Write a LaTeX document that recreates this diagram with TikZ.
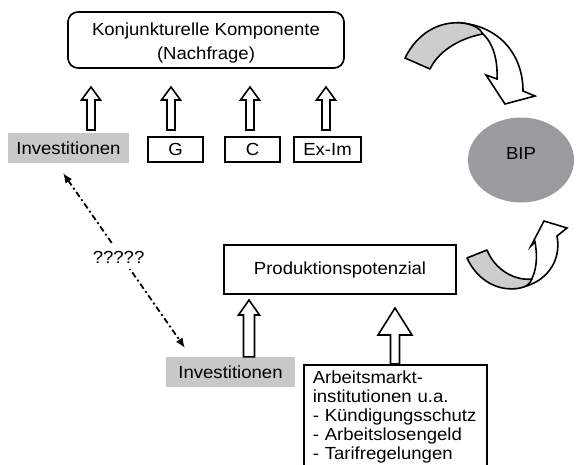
\documentclass[tikz,border=0pt]{standalone}
\usepackage{fontspec}
\setmainfont{Liberation Sans}[FakeStretch=1.06]
\usetikzlibrary{calc,arrows.meta,shapes.geometric}
\definecolor{lgray}{HTML}{C8C8C8}
\definecolor{bipgray}{HTML}{9B9B9F}
\definecolor{bandgray}{HTML}{CDCDCD}
\newcommand\harr[5]{\draw[harrow] ($(#1)+(-#3,0)$) -- ($(#2)+(-#3,#5)$) -- ($(#2)+(-#4,#5)$) -- (#2) -- ($(#2)+(#4,#5)$) -- ($(#2)+(#3,#5)$) -- ($(#1)+(#3,0)$) -- cycle;}
\begin{document}
\begin{tikzpicture}[x=1pt,y=-1pt, font=\fontsize{17.5}{21}\selectfont,
  box/.style={draw, line width=1.6pt, inner sep=0pt, minimum height=25pt},
  grayb/.style={fill=lgray, inner sep=0pt, minimum height=30pt},
  harrow/.style={draw, fill=white, line width=1.6pt, line join=miter},
  dda/.style={line width=1.8pt, dash pattern=on 6pt off 3pt on 2pt off 3pt,
    {Latex[length=10pt,width=8pt]}-{Latex[length=10pt,width=8pt]}},
  band/.style={draw, line width=1.6pt, fill=bandgray, line join=round}]
\useasboundingbox (0,0) rectangle (576,464);
\clip (0,0) rectangle (576,464);
% top box
\node[draw, line width=1.7pt, rounded corners=10pt, minimum width=276pt, minimum height=56pt,
  align=center, font=\fontsize{17.5}{24}\selectfont] (kk) at (206,40) {\rule{0pt}{18.5pt}Konjunkturelle Komponente\\(Nachfrage)};
% demand components
\node[grayb, minimum width=121pt] (inv1) at (68.5,148) {Investitionen};
\node[box, minimum width=55pt] (g) at (175.5,149.5) {G};
\node[box, minimum width=55pt] (c) at (252.5,149.5) {C};
\node[box, minimum width=67pt] (eximp) at (327.5,149.5) {Ex-Im};
% hollow arrows to top box
\foreach \x/\n in {91/a,171/b,250/c,326/d}{
  \coordinate (\n t) at (\x,87); \coordinate (\n b) at (\x,130);
  \harr{\n b}{\n t}{4}{9.5}{13}
}
% BIP
\node[ellipse, fill=bipgray, minimum width=106pt, minimum height=85pt, text depth=14pt] (bip) at (521,160) {BIP};
% production potential
\node[draw, line width=1.6pt, minimum width=232pt, minimum height=49pt] (pp) at (340,269.5) {Produktionspotenzial};
\node[grayb, minimum width=129pt] (inv2) at (230.5,372) {Investitionen};
\node[draw, line width=1.6pt, anchor=north west, text width=165pt, align=left, inner xsep=9pt, inner ysep=6pt,
  font=\fontsize{17.5}{19}\selectfont] (arb) at (303,364)
  {Arbeitsmarkt-\\institutionen u.a.\\- Kündigungsschutz\\- Arbeitslosengeld\\- Tarifregelungen};
\coordinate (ib) at (inv2.north -| 249,0);
\coordinate (it) at (249,300);
\harr{ib}{it}{5.5}{10.5}{15}
\coordinate (ab) at (arb.north -| 395,0);
\coordinate (at) at (395,308);
\harr{ab}{at}{4.5}{17}{27}
% dash-dotted double arrow
\coordinate (d1) at (63,173);
\coordinate (d2) at (185,348);
\draw[dda] (d1) -- node[pos=0.48, fill=white, inner sep=6pt, xshift=-3pt] (q) {?????} (d2);
% curved arrow top
\draw[harrow] (462,23) .. controls (500,27) and (523,55) .. (523,91) -- (535,96) -- (505,104) -- (486,75) -- (497,79) .. controls (498,58) and (492,42) .. (483,34) -- cycle;
\draw[band] (405,58) .. controls (418,32) and (440,21) .. (462,23) .. controls (472,24) and (480,28) .. (483,34) .. controls (465,37) and (440,48) .. (430,69) -- cycle;
% curved arrow bottom
\draw[harrow] (518,288) .. controls (545,284) and (562,262) .. (557,236) -- (567,228) -- (544,221) -- (531,246) -- (535,242) .. controls (538,258) and (536,272) .. (531,280) -- cycle;
\draw[band] (467,258) .. controls (478,282) and (500,292) .. (520,288) .. controls (526,287) and (530,284) .. (532,279) .. controls (515,281) and (495,270) .. (487,250) -- cycle;
\end{tikzpicture}
\end{document}
